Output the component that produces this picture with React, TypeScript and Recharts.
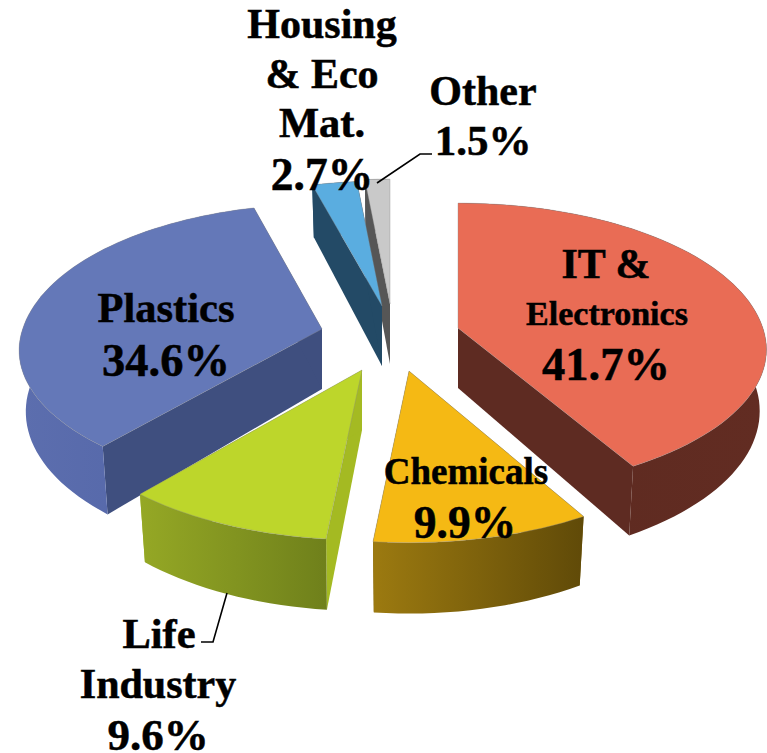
import React from "react";
import { PieChart, Pie } from "recharts";

// Revenue share by business segment. Listed counter-clockwise from 12 o'clock,
// so nearer slices paint over the ones behind them.
const segments = ["Other", "Housing & Eco Mat.", "Plastics", "Life Industry", "Chemicals", "IT & Electronics"];
const shares = [1.5, 2.7, 34.6, 9.6, 9.9, 41.7];

const topColors = ["#c9c9c9", "#5aade0", "#6478b8", "#bdd62b", "#f5b914", "#e96c55"];
const wallColors = ["#565656", "#234a66", "#3f4f7f", "#a4ba22", "#7a5d0c", "#5e2b22"];
const rimStops = [
  ["#6a6a6a", "#555555"],
  ["#2a5877", "#234a66"],
  ["#5c6eae", "#5063a6"],
  ["#95a825", "#6f801b"],
  ["#9c7a10", "#604a08"],
  ["#5c2a20", "#622c22"],
];

// How far each slice is pulled out of the pie, in pixels on the page.
const explodeX = [5, -3, -63, -23, 24, 73];
const explodeY = [-26, -24, -1, 40, 41, -2];

// Per-slice corrections of the disc's width and of its near half.
const widthScale = [1, 1, 0.975, 0.987, 0.99, 0.993];
const frontScale = [1, 1, 0.945, 1, 1.01, 0.96];

const CX = 385;
const CY = 330;
const RADIUS = 307;
const TILT = 0.469;
const PERSPECTIVE = 0.153;
const DEPTH = 60;
const UNDERSIDE_NARROWING = 0.978;

type LabelLine = { text: string; x: number; y: number; size: number };
const labelLines: LabelLine[][] = [
  [
    { text: "Other", x: 483, y: 105, size: 42 },
    { text: "1.5%", x: 483, y: 155, size: 43 },
  ],
  [
    { text: "Housing", x: 322, y: 38, size: 42 },
    { text: "& Eco", x: 322, y: 88, size: 42 },
    { text: "Mat.", x: 322, y: 137, size: 42.5 },
    { text: "2.7%", x: 322, y: 190, size: 45.5 },
  ],
  [
    { text: "Plastics", x: 166, y: 322, size: 42.5 },
    { text: "34.6%", x: 166, y: 376, size: 46.5 },
  ],
  [
    { text: "Life", x: 159, y: 648, size: 42.5 },
    { text: "Industry", x: 158, y: 698, size: 42 },
    { text: "9.6%", x: 158, y: 750, size: 45 },
  ],
  [
    { text: "Chemicals", x: 466, y: 484, size: 37 },
    { text: "9.9%", x: 465, y: 538, size: 45.5 },
  ],
  [
    { text: "IT &", x: 606, y: 278, size: 42 },
    { text: "Electronics", x: 607, y: 325, size: 34 },
    { text: "41.7%", x: 606, y: 380, size: 46.5 },
  ],
];

// Elbow leader lines for the labels that sit outside their slice.
const leaders: (string | null)[] = [
  "377,183 420,154 432,154",
  null,
  null,
  "227,593 213,642 201,642",
  null,
  null,
];

const chartData = segments.map((name, i) => ({ name, value: shares[i], slot: i }));

const RAD = Math.PI / 180;

// Maps an angle clockwise from 12 o'clock onto the tilted disc.
function project(deg: number, radius: number, slot: number) {
  const u = Math.sin(deg * RAD);
  const v = -Math.cos(deg * RAD);
  const p = 1 / (1 - PERSPECTIVE * v);
  const near = v > 0 ? frontScale[slot] : 1;
  return { x: radius * u * p * widthScale[slot], y: radius * TILT * v * p * near, p };
}

function poly(points: number[][]) {
  return "M" + points.map((q) => `${q[0].toFixed(1)},${q[1].toFixed(1)}`).join("L") + "Z";
}

function Slice3D(props: any) {
  const slot: number = props.slot ?? props.payload?.slot ?? 0;
  const a0 = Math.min(props.startAngle, props.endAngle);
  const a1 = Math.max(props.startAngle, props.endAngle);
  let from = 90 - a1;
  let to = 90 - a0;
  if (from < -0.01) {
    from += 360;
    to += 360;
  }
  const ox = props.cx + explodeX[slot];
  const oy = props.cy + explodeY[slot];
  const steps = Math.max(4, Math.ceil((to - from) / 2));
  const top: number[][] = [];
  const bottom: number[][] = [];
  for (let i = 0; i <= steps; i++) {
    const q = project(from + ((to - from) * i) / steps, props.outerRadius, slot);
    top.push([ox + q.x, oy + q.y]);
    bottom.push([ox + q.x * UNDERSIDE_NARROWING, oy + q.y + DEPTH * q.p]);
  }
  const apex = [ox, oy];
  const apexLow = [ox, oy + DEPTH];
  const gradId = `rim-${slot}`;
  const wall = wallColors[slot];
  // Slices at the back turn their rim away, so their cut faces must hide it;
  // everywhere else the rim sits in front of the cut faces.
  const facesAway = -Math.cos(((from + to) / 2) * RAD) < -0.5;
  const rim = <path d={poly([...top, ...bottom.slice().reverse()])} fill={`url(#${gradId})`} />;
  return (
    <g>
      <defs>
        <linearGradient id={gradId} x1="0" y1="0" x2="1" y2="0">
          <stop offset="0" stopColor={rimStops[slot][0]} />
          <stop offset="1" stopColor={rimStops[slot][1]} />
        </linearGradient>
      </defs>
      {facesAway && rim}
      <path d={poly([apex, top[0], bottom[0], apexLow])} fill={wall} />
      <path d={poly([apex, top[top.length - 1], bottom[bottom.length - 1], apexLow])} fill={wall} />
      {!facesAway && rim}
      <path d={poly([apex, ...top])} fill={topColors[slot]} stroke="#8a8a8a" strokeOpacity={0.45} strokeWidth={0.8} />
    </g>
  );
}

function SliceLabel(props: any) {
  const slot: number = props.slot ?? props.payload?.slot ?? 0;
  return (
    <g>
      {leaders[slot] && <polyline points={leaders[slot] as string} fill="none" stroke="#000" strokeWidth={1.6} />}
      {labelLines[slot].map((l) => (
        <text
          key={l.text}
          x={l.x}
          y={l.y}
          textAnchor="middle"
          fontFamily="'Liberation Serif', serif"
          fontWeight="bold"
          fontSize={l.size}
          fill="#000"
          stroke="#000"
          strokeWidth={0.5}
        >
          {l.text}
        </text>
      ))}
    </g>
  );
}

export default function App() {
  return (
    <div style={{ position: "absolute", left: 0, top: 0, width: 767, height: 753, overflow: "hidden", background: "#fff" }}>
      <PieChart width={767} height={753} margin={{ top: 0, right: 0, bottom: 0, left: 0 }}>
        <Pie
          data={chartData}
          dataKey="value"
          nameKey="name"
          cx={CX}
          cy={CY}
          innerRadius={0}
          outerRadius={RADIUS}
          startAngle={90}
          endAngle={450}
          paddingAngle={0}
          stroke="none"
          isAnimationActive={false}
          shape={Slice3D}
          label={SliceLabel}
          labelLine={false}
        />
      </PieChart>
    </div>
  );
}
